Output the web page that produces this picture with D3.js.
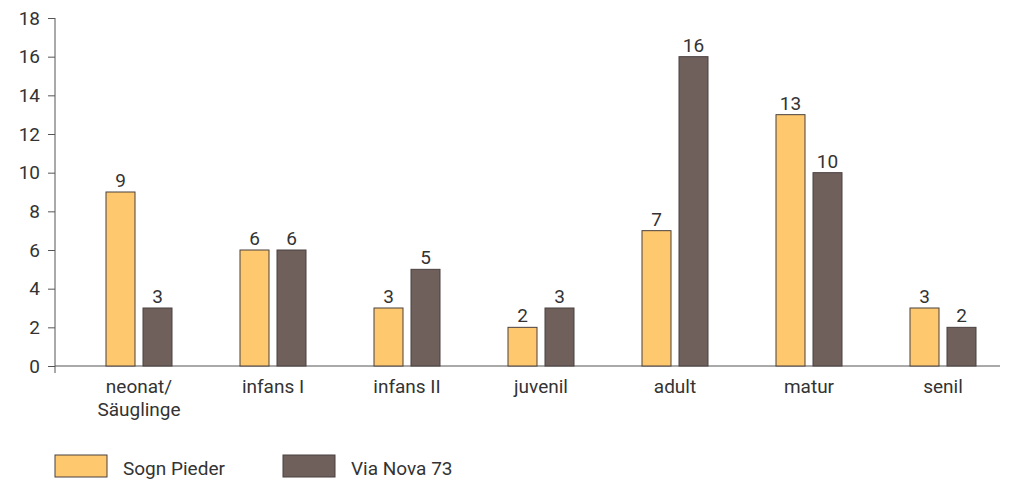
<!DOCTYPE html>
<html>
<head>
  <meta charset="UTF-8">
  <script src="https://d3js.org/d3.v7.min.js"></script>
  <style>
    body { margin: 0; background: #fff; }
    text { font-family: "Liberation Sans Narrow", "Arial Narrow", "Roboto", sans-serif; fill: #333; }
  </style>
</head>
<body>
<script>
// data
var categories = [["neonat/", "Säuglinge"], ["infans I"], ["infans II"], ["juvenil"], ["adult"], ["matur"], ["senil"]];
var seriesNames = ["Sogn Pieder", "Via Nova 73"];
var sognPieder = [9, 6, 3, 2, 7, 13, 3];
var viaNova = [3, 6, 5, 3, 16, 10, 2];
var yTicks = [0, 2, 4, 6, 8, 10, 12, 14, 16, 18];
var colors = ["#fdc86e", "#6f605c"];

var width = 1009, height = 483;
var svg = d3.select("body").append("svg")
  .attr("width", width).attr("height", height);

var x = d3.scaleBand()
  .domain(d3.range(categories.length))
  .range([72, 1010]);

var y = d3.scaleLinear()
  .domain([0, 18])
  .range([366, 18]);

// y axis
var yAxis = svg.append("g")
  .attr("transform", "translate(55,0)")
  .call(d3.axisLeft(y).tickValues(yTicks).tickSize(7).tickPadding(8));
yAxis.select(".domain").attr("stroke", "#555").attr("d", "M0,18V373");
yAxis.selectAll(".tick line").attr("stroke", "#555");
yAxis.selectAll(".tick text").style("font-size", "19px").attr("fill", "#333");

// x baseline
svg.append("line")
  .attr("x1", 55).attr("x2", 1000)
  .attr("y1", y(0)).attr("y2", y(0))
  .attr("stroke", "#555");

var series = [sognPieder, viaNova];
var barW = 29, gap = 4;

series.forEach(function (vals, s) {
  var g = svg.append("g");
  vals.forEach(function (v, i) {
    var cx = x(i) + x.bandwidth() / 2;
    var bx = s === 0 ? cx - gap - barW : cx + gap;
    g.append("rect")
      .attr("x", bx).attr("y", y(v))
      .attr("width", barW).attr("height", y(0) - y(v))
      .attr("fill", colors[s])
      .attr("stroke", "#4a4040").attr("stroke-width", 1);
    g.append("text")
      .attr("x", bx + barW / 2).attr("y", y(v) - 5)
      .attr("text-anchor", "middle")
      .style("font-size", "19px")
      .text(v);
  });
});

// category labels
categories.forEach(function (lines, i) {
  var t = svg.append("text")
    .attr("x", x(i) + x.bandwidth() / 2)
    .attr("y", 393)
    .attr("text-anchor", "middle")
    .style("font-size", "19px");
  lines.forEach(function (l, k) {
    t.append("tspan").attr("x", x(i) + x.bandwidth() / 2).attr("dy", k === 0 ? 0 : 23).text(l);
  });
});

// legend
var legendX = [55, 283];
seriesNames.forEach(function (name, s) {
  svg.append("rect")
    .attr("x", legendX[s]).attr("y", 455)
    .attr("width", 52).attr("height", 22)
    .attr("fill", colors[s])
    .attr("stroke", "#4a4040");
  svg.append("text")
    .attr("x", legendX[s] + 68).attr("y", 475)
    .style("font-size", "19px")
    .text(name);
});
</script>
</body>
</html>
